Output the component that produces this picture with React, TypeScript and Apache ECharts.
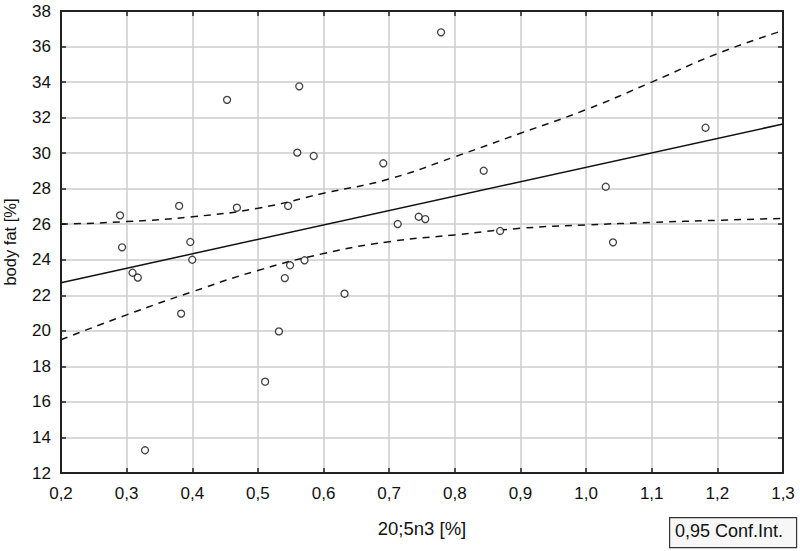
import React, { useEffect, useRef } from "react";
import * as echarts from "echarts";

const pointX = [0.29, 0.293, 0.309, 0.317, 0.328, 0.38, 0.383, 0.397, 0.4, 0.453, 0.468, 0.511, 0.532, 0.541, 0.546, 0.549, 0.56, 0.563, 0.571, 0.585, 0.632, 0.691, 0.713, 0.745, 0.755, 0.779, 0.844, 0.869, 1.03, 1.041, 1.182];
const pointY = [26.5, 24.7, 23.27, 23.0, 13.28, 27.03, 20.97, 25.0, 24.0, 33.0, 26.93, 17.14, 19.97, 22.97, 27.03, 23.69, 30.03, 33.76, 23.97, 29.84, 22.09, 29.43, 26.01, 26.42, 26.29, 36.8, 29.01, 25.62, 28.11, 24.98, 31.43];

const fitX = [0.2, 1.3];
const fitY = [22.71, 31.64];

const ciX = [0.2, 0.3, 0.4, 0.5, 0.6, 0.7, 0.8, 0.9, 1.0, 1.1, 1.2, 1.3];
const ciUpper = [26.0, 26.15, 26.42, 26.9, 27.74, 28.55, 29.8, 31.12, 32.45, 34.0, 35.6, 36.9];
const ciLower = [19.5, 20.9, 22.2, 23.4, 24.35, 25.02, 25.4, 25.77, 25.96, 26.1, 26.22, 26.33];

const xTitle = "20;5n3 [%]";
const yTitle = "body fat [%]";
const legendText = "0,95 Conf.Int.";

const FONT = "'Liberation Sans', Arial, sans-serif";

export default function App() {
  const ref = useRef<HTMLDivElement>(null);
  useEffect(() => {
    document.body.style.margin = "0";
    const chart = echarts.init(ref.current!, null, { renderer: "svg" });
    const pair = (xs: number[], ys: number[]) => xs.map((x, i) => [x, ys[i]]);
    const gridLine = { show: true, lineStyle: { color: "#cdcdcd", width: 1.5 } };
    const axisLine = { show: true, lineStyle: { color: "#222", width: 2 } };
    const tickIn = { show: true, inside: true, length: 5, lineStyle: { color: "#222", width: 1.5 } };
    chart.setOption({
      animation: false,
      backgroundColor: "#fff",
      grid: { left: 61, right: 17, top: 11, bottom: 78, containLabel: false, outerBoundsMode: "none" },
      xAxis: [
        {
          type: "value", min: 0.2, max: 1.3, interval: 0.1,
          axisLine, axisTick: tickIn, splitLine: gridLine,
          axisLabel: {
            color: "#111", fontFamily: FONT, fontSize: 17, margin: 12,
            formatter: (v: number) => v.toFixed(1).replace(".", ","),
          },
          name: xTitle, nameLocation: "middle", nameGap: 46,
          nameTextStyle: { color: "#111", fontFamily: FONT, fontSize: 18.5 },
        },
        {
          type: "value", position: "top", min: 0.2, max: 1.3, interval: 0.1,
          axisLine, axisTick: tickIn, splitLine: { show: false }, axisLabel: { show: false },
        },
      ],
      yAxis: [
        {
          type: "value", min: 12, max: 38, interval: 2,
          axisLine, axisTick: tickIn, splitLine: gridLine,
          axisLabel: { color: "#111", fontFamily: FONT, fontSize: 17, margin: 10 },
          name: yTitle, nameLocation: "middle", nameGap: 43,
          nameTextStyle: { color: "#111", fontFamily: FONT, fontSize: 16.5 },
        },
        {
          type: "value", position: "right", min: 12, max: 38, interval: 2,
          axisLine, axisTick: tickIn, splitLine: { show: false }, axisLabel: { show: false },
        },
      ],
      series: [
        {
          type: "line", data: pair(ciX, ciUpper), smooth: true, symbol: "none",
          lineStyle: { color: "#111", width: 1.5, type: [7, 6] },
        },
        {
          type: "line", data: pair(ciX, ciLower), smooth: true, symbol: "none",
          lineStyle: { color: "#111", width: 1.5, type: [7, 6] },
        },
        {
          type: "line", data: pair(fitX, fitY), symbol: "none",
          lineStyle: { color: "#111", width: 1.5 },
        },
        {
          type: "scatter", data: pair(pointX, pointY), symbol: "circle", symbolSize: 7, z: 5,
          itemStyle: { color: "#fff", borderColor: "#111", borderWidth: 1.3 },
        },
      ],
      graphic: [
        {
          type: "rect", left: 669, top: 517,
          shape: { width: 127, height: 30 },
          style: { fill: "#f7f7f7", stroke: "#333", lineWidth: 1.2 },
        },
        {
          type: "text", left: 675, top: 522,
          style: { text: legendText, fill: "#111", font: `18px ${FONT}` },
        },
      ],
    });
    return () => chart.dispose();
  }, []);
  return <div ref={ref} style={{ width: 800, height: 551 }} />;
}
